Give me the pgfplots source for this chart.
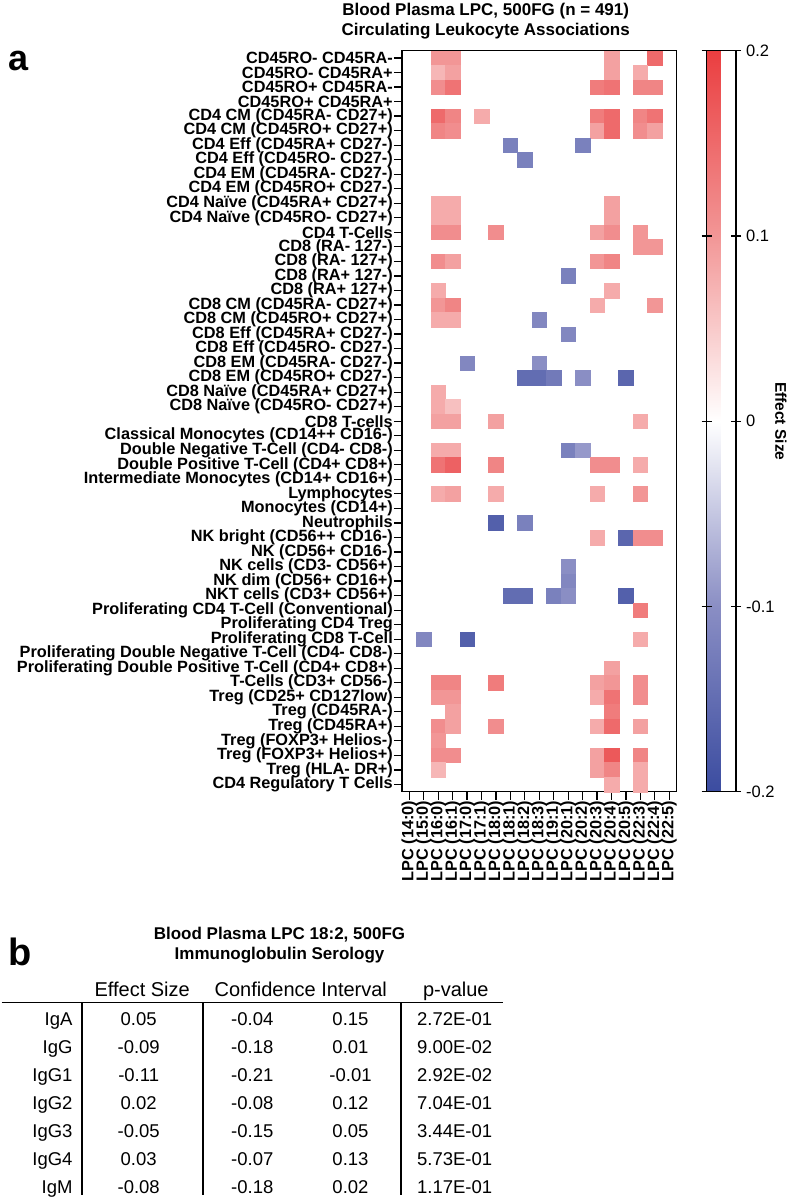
\documentclass[border=0pt]{standalone}
\usepackage{fontspec}
\setmainfont{Liberation Sans}
\usepackage{pgfplots}
\usepackage{pgfplotstable}
\pgfplotsset{compat=1.18}
\newcommand{\ticklab}{\fontsize{16.3bp}{17bp}\selectfont\bfseries}
\newcommand{\cblab}{\fontsize{16.5bp}{17bp}\selectfont}
\newcommand{\ttl}{\fontsize{17bp}{19bp}\selectfont\bfseries}
\newcommand{\thd}{\fontsize{20bp}{22bp}\selectfont}
\newcommand{\tdat}{\fontsize{18.5bp}{20bp}\selectfont}
\pgfplotstableread{
x y v
2 0 0.10
3 0 0.10
14 0 0.09
17 0 0.15
2 1 0.07
3 1 0.09
14 1 0.09
16 1 0.08
2 2 0.11
3 2 0.14
13 2 0.13
14 2 0.14
16 2 0.12
17 2 0.12
2 4 0.15
3 4 0.12
5 4 0.08
13 4 0.13
14 4 0.15
16 4 0.12
17 4 0.14
2 5 0.12
3 5 0.11
13 5 0.09
14 5 0.15
16 5 0.11
17 5 0.09
7 6 -0.12
12 6 -0.12
8 7 -0.12
2 10 0.08
3 10 0.08
14 10 0.09
2 11 0.08
3 11 0.08
14 11 0.09
2 12 0.11
3 12 0.11
6 12 0.11
13 12 0.09
14 12 0.11
16 12 0.10
16 13 0.10
17 13 0.10
2 14 0.11
3 14 0.09
13 14 0.10
14 14 0.12
11 15 -0.12
2 16 0.08
14 16 0.08
2 17 0.10
3 17 0.12
13 17 0.08
17 17 0.10
2 18 0.08
3 18 0.08
9 18 -0.11
11 19 -0.11
4 21 -0.11
9 21 -0.10
8 22 -0.15
9 22 -0.15
10 22 -0.13
12 22 -0.10
15 22 -0.16
2 23 0.08
2 24 0.08
3 24 0.06
2 25 0.09
3 25 0.09
6 25 0.09
16 25 0.08
2 27 0.08
3 27 0.08
11 27 -0.12
12 27 -0.09
2 28 0.14
3 28 0.16
6 28 0.12
13 28 0.11
14 28 0.11
16 28 0.08
2 30 0.08
3 30 0.09
6 30 0.08
13 30 0.08
16 30 0.10
6 32 -0.17
8 32 -0.12
13 33 0.08
15 33 -0.16
16 33 0.11
17 33 0.11
11 35 -0.10
11 36 -0.11
7 37 -0.15
8 37 -0.15
10 37 -0.12
11 37 -0.10
15 37 -0.17
16 38 0.13
1 40 -0.11
4 40 -0.17
16 40 0.08
14 42 0.09
2 43 0.12
3 43 0.12
6 43 0.13
13 43 0.09
14 43 0.10
16 43 0.11
2 44 0.10
3 44 0.10
13 44 0.08
14 44 0.14
16 44 0.11
3 45 0.09
14 45 0.13
2 46 0.11
3 46 0.09
6 46 0.11
13 46 0.08
14 46 0.15
16 46 0.09
2 47 0.10
2 48 0.11
3 48 0.11
13 48 0.09
14 48 0.17
16 48 0.12
2 49 0.07
13 49 0.09
14 49 0.12
16 49 0.08
14 50 0.08
16 50 0.08
}\cells
\begin{document}
\begin{tikzpicture}
\path[use as bounding box] (0bp,0bp) rectangle (793bp,-1199bp);
\begin{axis}[
  at={(402bp,-50.7bp)}, anchor=north west,
  scale only axis, width=274.5bp, height=741bp,
  xmin=-0.5, xmax=18.5, ymin=-0.5, ymax=50.5, y dir=reverse,
  xtick={0,...,18}, ytick={0,...,50},
  xticklabels={LPC (14:0),LPC (15:0),LPC (16:0),LPC (16:1),LPC (17:0),LPC (17:1),LPC (18:0),LPC (18:1),LPC (18:2),LPC (18:3),LPC (19:1),LPC (20:1),LPC (20:2),LPC (20:3),LPC (20:4),LPC (20:5),LPC (22:3),LPC (22:4),LPC (22:5)},
  yticklabels={CD45RO- CD45RA-,CD45RO- CD45RA+,CD45RO+ CD45RA-,CD45RO+ CD45RA+,CD4 CM (CD45RA- CD27+),CD4 CM (CD45RO+ CD27+),CD4 Eff (CD45RA+ CD27-),CD4 Eff (CD45RO- CD27-),CD4 EM (CD45RA- CD27-),CD4 EM (CD45RO+ CD27-),CD4 Naïve (CD45RA+ CD27+),CD4 Naïve (CD45RO- CD27+),CD4 T-Cells,CD8 (RA- 127-),CD8 (RA- 127+),CD8 (RA+ 127-),CD8 (RA+ 127+),CD8 CM (CD45RA- CD27+),CD8 CM (CD45RO+ CD27+),CD8 Eff (CD45RA+ CD27-),CD8 Eff (CD45RO- CD27-),CD8 EM (CD45RA- CD27-),CD8 EM (CD45RO+ CD27-),CD8 Naïve (CD45RA+ CD27+),CD8 Naïve (CD45RO- CD27+),CD8 T-cells,Classical Monocytes (CD14++ CD16-),Double Negative T-Cell (CD4- CD8-),Double Positive T-Cell (CD4+ CD8+),Intermediate Monocytes (CD14+ CD16+),Lymphocytes,Monocytes (CD14+),Neutrophils,NK bright (CD56++ CD16-),NK (CD56+ CD16-),NK cells (CD3- CD56+),NK dim (CD56+ CD16+),NKT cells (CD3+ CD56+),Proliferating CD4 T-Cell (Conventional),Proliferating CD4 Treg,Proliferating CD8 T-Cell,Proliferating Double Negative T-Cell (CD4- CD8-),Proliferating Double Positive T-Cell (CD4+ CD8+),T-Cells (CD3+ CD56-),Treg (CD25+ CD127low),Treg (CD45RA-),Treg (CD45RA+),Treg (FOXP3+ Helios-),Treg (FOXP3+ Helios+),Treg (HLA- DR+),CD4 Regulatory T Cells},
  tick pos=left, tick align=outside, major tick length=8bp,
  tick style={black, line width=1.2bp},
  axis line style={line width=1.4bp},
  xticklabel style={rotate=90, anchor=east, font=\ticklab, inner sep=1bp},
  yticklabel style={font=\ticklab, inner sep=1bp},
  colormap={bwr}{rgb255=(59,76,160) rgb255=(138,142,196) rgb255=(255,255,255) rgb255=(242,150,150) rgb255=(234,62,64)},
  point meta min=-0.2, point meta max=0.2,
  colorbar,
  colorbar shift/.style={xshift=30.2bp},
  colorbar style={
    at={(parent axis.north east)}, anchor=north west,
    scale only axis, width=29.3bp, height=741bp,
    ytick={-0.2,-0.1,0,0.1,0.2},
    yticklabels={-0.2,-0.1,0,0.1,0.2},
    yticklabel style={font=\cblab, inner sep=0pt, xshift=5bp},
    tick align=center, major tick length=10bp,
    tick style={black, line width=1.2bp},
    axis line style={line width=1.2bp},
  },
]
\addplot[scatter, only marks, mark=square*, mark size=7.25bp,
  scatter/use mapped color={draw=mapped color, fill=mapped color},
  point meta=explicit] table[x=x, y=y, meta=v] {\cells};
\end{axis}
\begin{scope}[x=1bp, y=-1bp]
\node[anchor=base west, inner sep=0pt, font=\fontsize{36bp}{38bp}\selectfont\bfseries] at (8,70) {a};
\node[anchor=base, inner sep=0pt, font=\ttl] at (485.7,15) {Blood Plasma LPC, 500FG (n = 491)};
\node[anchor=base, inner sep=0pt, font=\ttl] at (485.7,35) {Circulating Leukocyte Associations};
\node[rotate=-90, inner sep=0pt, font=\fontsize{15.5bp}{17bp}\selectfont\bfseries] at (781,421.2) {Effect Size};
% part b
\node[anchor=base west, inner sep=0pt, font=\fontsize{38bp}{40bp}\selectfont\bfseries] at (8,965) {b};
\node[anchor=base, inner sep=0pt, font=\ttl] at (279.5,939) {Blood Plasma LPC 18:2, 500FG};
\node[anchor=base, inner sep=0pt, font=\ttl] at (279.5,959.5) {Immunoglobulin Serology};
\node[anchor=base, inner sep=0pt, font=\thd] at (142.2,996) {Effect Size};
\node[anchor=base, inner sep=0pt, font=\thd] at (300.8,996) {Confidence Interval};
\node[anchor=base, inner sep=0pt, font=\thd] at (455.8,996) {p-value};
\draw[line width=1.6bp] (1.7,1002.3) -- (502.7,1002.3);
\foreach \xx in {81.7,203,401} \draw[line width=1.6bp] (\xx,1002.3) -- (\xx,1195);
\foreach \n/\a/\b/\c/\p [count=\i from 0] in {IgA/0.05/-0.04/0.15/2.72E-01, IgG/-0.09/-0.18/0.01/9.00E-02, IgG1/-0.11/-0.21/-0.01/2.92E-02, IgG2/0.02/-0.08/0.12/7.04E-01, IgG3/-0.05/-0.15/0.05/3.44E-01, IgG4/0.03/-0.07/0.13/5.73E-01, IgM/-0.08/-0.18/0.02/1.17E-01}{
  \node[anchor=base east, inner sep=0pt, font=\tdat] at (72.7,{1025.6+27.95*\i}) {\n};
  \node[anchor=base, inner sep=0pt, font=\tdat] at (138.7,{1025.6+27.95*\i}) {\a};
  \node[anchor=base, inner sep=0pt, font=\tdat] at (252.3,{1025.6+27.95*\i}) {\b};
  \node[anchor=base, inner sep=0pt, font=\tdat] at (350.5,{1025.6+27.95*\i}) {\c};
  \node[anchor=base, inner sep=0pt, font=\tdat] at (454.7,{1025.6+27.95*\i}) {\p};
}
\end{scope}
\end{tikzpicture}
\end{document}
